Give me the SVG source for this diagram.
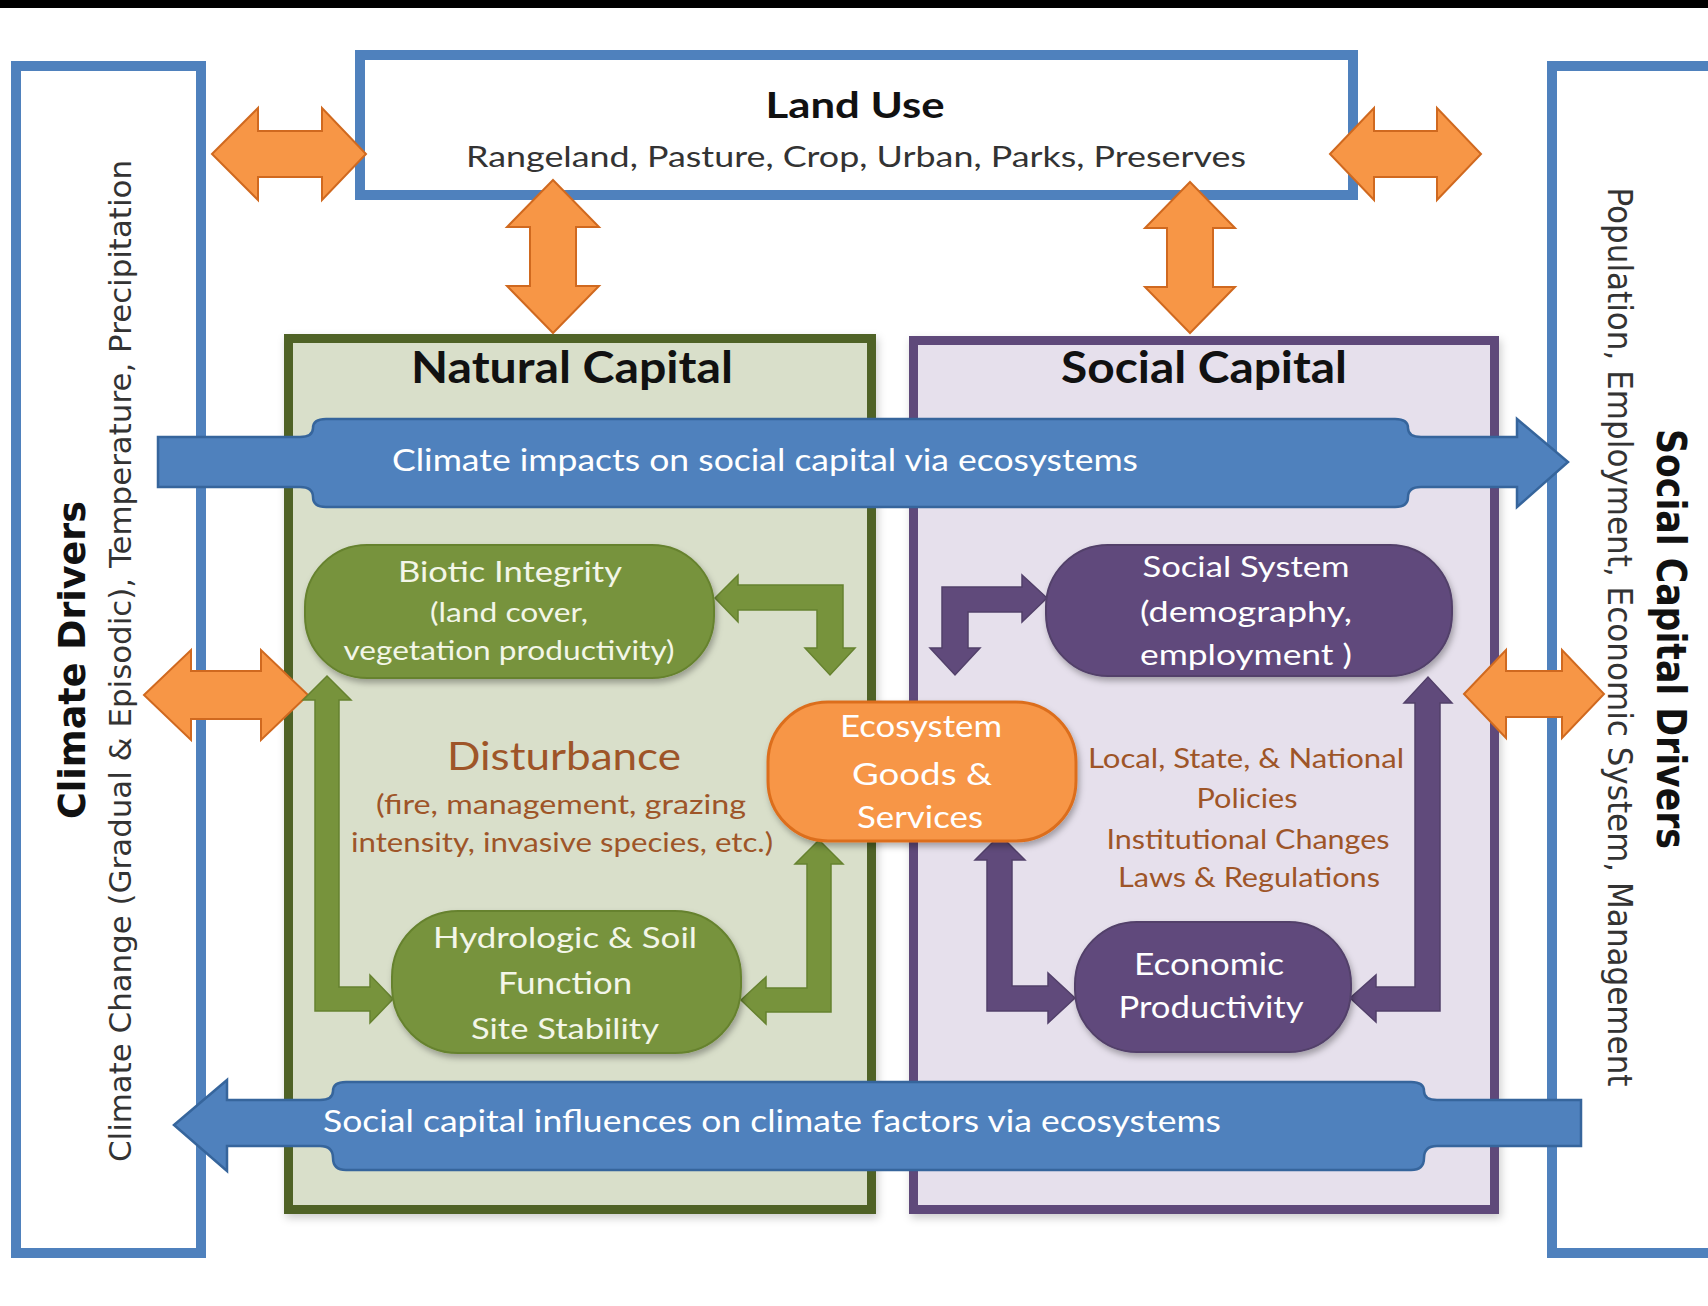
<svg xmlns="http://www.w3.org/2000/svg" width="1708" height="1306" viewBox="0 0 1708 1306">
<defs>
<filter id="sh" x="-10%" y="-10%" width="130%" height="140%"><feDropShadow dx="2" dy="4" stdDeviation="3" flood-color="#000" flood-opacity="0.3"/></filter>
<filter id="shb" x="-5%" y="-5%" width="110%" height="110%"><feDropShadow dx="2" dy="4" stdDeviation="4" flood-color="#000" flood-opacity="0.2"/></filter>
<style>
.lato{font-family:Lato,"Liberation Sans",sans-serif}
.dv{font-family:"DejaVu Sans",Verdana,sans-serif}
.bluebox{fill:#fff;stroke:#4F81BD;stroke-width:10}
.orange{fill:#F79646;stroke:#D0691F;stroke-width:2}
.blue{fill:#4F81BD;stroke:#36659C;stroke-width:2.5}
.green{fill:#77933C;stroke:#66822F;stroke-width:1.5}
.purple{fill:#604A7B;stroke:#52406A;stroke-width:1.5}
.wt{fill:#fff}
.gt{fill:#F3F6E8}
.bt{fill:#9E5528}
</style>
</defs>
<rect x="0" y="0" width="1708" height="1306" fill="#fff"/>
<rect x="0" y="0" width="1708" height="8" fill="#000"/>

<g id="climate-drivers">
<rect class="bluebox" x="16" y="66" width="185" height="1187"/>
<text class="dv" x="85" y="660" transform="rotate(-90 85 660)" text-anchor="middle" font-size="38" font-weight="bold" fill="#111" textLength="318" lengthAdjust="spacingAndGlyphs">Climate Drivers</text>
<text class="dv" x="131" y="661" transform="rotate(-90 131 661)" text-anchor="middle" font-size="31" fill="#333" textLength="1002" lengthAdjust="spacingAndGlyphs">Climate Change (Gradual &amp; Episodic), Temperature, Precipitation</text>
</g>

<g id="social-capital-drivers">
<rect class="bluebox" x="1552" y="66" width="200" height="1187"/>
<text class="dv" x="1657" y="639" transform="rotate(90 1657 639)" text-anchor="middle" font-size="40" font-weight="bold" fill="#111" textLength="420" lengthAdjust="spacingAndGlyphs">Social Capital Drivers</text>
<text class="dv" x="1608" y="637" transform="rotate(90 1608 637)" text-anchor="middle" font-size="33" fill="#333" textLength="899" lengthAdjust="spacingAndGlyphs">Population, Employment, Economic System, Management</text>
</g>

<g id="land-use">
<rect class="bluebox" x="360" y="55" width="993" height="140"/>
<text class="lato" x="855" y="118" text-anchor="middle" font-size="36" font-weight="bold" fill="#111" textLength="179" lengthAdjust="spacingAndGlyphs">Land Use</text>
<text class="lato" x="856" y="167" text-anchor="middle" font-size="28" fill="#333" textLength="780" lengthAdjust="spacingAndGlyphs">Rangeland, Pasture, Crop, Urban, Parks, Preserves</text>
</g>

<g id="natural-capital">
<rect x="288.5" y="338.5" width="583" height="871" fill="#D9DFCA" stroke="#4F6228" stroke-width="9" filter="url(#shb)"/>
<text class="lato" x="572" y="383" text-anchor="middle" font-size="43" font-weight="bold" fill="#111" textLength="322" lengthAdjust="spacingAndGlyphs">Natural Capital</text>
</g>

<g id="social-capital">
<rect x="913.5" y="340.5" width="581" height="869" fill="#E6E0EC" stroke="#5F497A" stroke-width="9" filter="url(#shb)"/>
<text class="lato" x="1204" y="383" text-anchor="middle" font-size="43" font-weight="bold" fill="#111" textLength="286" lengthAdjust="spacingAndGlyphs">Social Capital</text>
</g>

<g id="disturbance">
<text class="lato bt" x="564" y="770" text-anchor="middle" font-size="38" fill="#A65E30" textLength="234" lengthAdjust="spacingAndGlyphs">Disturbance</text>
<text class="lato bt" x="561" y="814" text-anchor="middle" font-size="27" textLength="370" lengthAdjust="spacingAndGlyphs">(fire, management, grazing</text>
<text class="lato bt" x="562" y="852" text-anchor="middle" font-size="27" textLength="422" lengthAdjust="spacingAndGlyphs">intensity, invasive species, etc.)</text>
</g>

<g id="policies">
<text class="lato bt" x="1246" y="768" text-anchor="middle" font-size="27" textLength="316" lengthAdjust="spacingAndGlyphs">Local, State, &amp; National</text>
<text class="lato bt" x="1247" y="808" text-anchor="middle" font-size="27" textLength="101" lengthAdjust="spacingAndGlyphs">Policies</text>
<text class="lato bt" x="1248" y="849" text-anchor="middle" font-size="27" textLength="283" lengthAdjust="spacingAndGlyphs">Institutional Changes</text>
<text class="lato bt" x="1249" y="887" text-anchor="middle" font-size="27" textLength="262" lengthAdjust="spacingAndGlyphs">Laws &amp; Regulations</text>
</g>

<g id="connectors">
<polygon class="orange" points="212,154 258,108 258,131 322,131 322,108 366,154 322,200 322,177 258,177 258,200"/>
<polygon class="orange" points="1330,154 1374,108 1374,131 1437,131 1437,108 1481,154 1437,200 1437,177 1374,177 1374,200"/>
<polygon class="orange" points="553,180 599,227 576,227 576,286 599,286 553,333 507,286 530,286 530,227 507,227"/>
<polygon class="orange" points="1190,182 1235,228 1213,228 1213,287 1235,287 1190,333 1145,287 1167,287 1167,228 1145,228"/>
<polygon class="orange" points="144,695 191,650 191,671 261,671 261,650 308,695 261,740 261,719 191,719 191,740"/>
<polygon class="orange" points="1464,694 1506,650 1506,671 1562,671 1562,650 1604,694 1562,738 1562,717 1506,717 1506,738"/>

<path class="blue" d="M158,437 H300 Q313,437 313,428 Q313,419 326,419 H1395 Q1408,419 1408,428 Q1408,437 1421,437 H1517 V419 L1568,462 L1517,507 V487 H1421 Q1408,487 1408,497 Q1408,507 1395,507 H326 Q313,507 313,497 Q313,487 300,487 H158 Z"/>
<text class="lato wt" x="765" y="471" text-anchor="middle" font-size="31" textLength="746" lengthAdjust="spacingAndGlyphs">Climate impacts on social capital via ecosystems</text>

<path class="blue" d="M174,1125 L227,1080 V1100 H320 Q333,1100 333,1091 Q333,1082 346,1082 H1411 Q1424,1082 1424,1091 Q1424,1100 1437,1100 H1581 V1146 H1437 Q1424,1146 1424,1158 Q1424,1170 1411,1170 H346 Q333,1170 333,1158 Q333,1146 320,1146 H227 V1171 Z"/>
<text class="lato wt" x="772" y="1132" text-anchor="middle" font-size="31" textLength="898" lengthAdjust="spacingAndGlyphs">Social capital influences on climate factors via ecosystems</text>

<polygon class="green" points="715,598 738,575 738,585 843,585 843,648 855,648 830,675 805,648 817,648 817,610 738,610 738,622"/>
<polygon class="green" points="327,676 351,700 339,700 339,987 370,987 370,975 393,999 370,1023 370,1011 315,1011 315,700 303,700"/>
<polygon class="green" points="741,1000 766,977 766,988 807,988 807,864 795,864 819,840 843,864 831,864 831,1012 766,1012 766,1024"/>

<polygon class="purple" points="1047,598 1022,575 1022,587 942,587 942,648 930,648 955,675 980,648 968,648 968,612 1022,612 1022,622"/>
<polygon class="purple" points="1000,835 1025,860 1012,860 1012,986 1048,986 1048,973 1075,998 1048,1023 1048,1011 987,1011 987,860 975,860"/>
<polygon class="purple" points="1350,998 1376,975 1376,987 1415,987 1415,703 1404,703 1428,677 1452,703 1440,703 1440,1011 1376,1011 1376,1022"/>
</g>

<g id="biotic-integrity">
<rect x="305" y="545" width="409" height="133" rx="62" fill="#77933C" stroke="#66822F" stroke-width="2" filter="url(#sh)"/>
<text class="lato gt" x="510" y="582" text-anchor="middle" font-size="28" textLength="224" lengthAdjust="spacingAndGlyphs">Biotic Integrity</text>
<text class="lato gt" x="509" y="622" text-anchor="middle" font-size="27" textLength="158" lengthAdjust="spacingAndGlyphs">(land cover,</text>
<text class="lato gt" x="509" y="660" text-anchor="middle" font-size="27" textLength="331" lengthAdjust="spacingAndGlyphs">vegetation productivity)</text>
</g>

<g id="hydrologic-soil">
<rect x="392" y="911" width="349" height="142" rx="66" fill="#77933C" stroke="#66822F" stroke-width="2" filter="url(#sh)"/>
<text class="lato gt" x="565" y="948" text-anchor="middle" font-size="29" textLength="264" lengthAdjust="spacingAndGlyphs">Hydrologic &amp; Soil</text>
<text class="lato gt" x="565" y="994" text-anchor="middle" font-size="30" textLength="134" lengthAdjust="spacingAndGlyphs">Function</text>
<text class="lato gt" x="565" y="1039" text-anchor="middle" font-size="29" textLength="188" lengthAdjust="spacingAndGlyphs">Site Stability</text>
</g>

<g id="ecosystem-goods">
<rect x="768" y="702" width="308" height="139" rx="60" fill="#F79646" stroke="#DC6E1E" stroke-width="3" filter="url(#sh)"/>
<text class="lato wt" x="921" y="737" text-anchor="middle" font-size="30" textLength="162" lengthAdjust="spacingAndGlyphs">Ecosystem</text>
<text class="lato wt" x="922" y="785" text-anchor="middle" font-size="30" textLength="140" lengthAdjust="spacingAndGlyphs">Goods  &amp;</text>
<text class="lato wt" x="920" y="828" text-anchor="middle" font-size="30" textLength="126" lengthAdjust="spacingAndGlyphs">Services</text>
</g>

<g id="social-system">
<rect x="1046" y="545" width="406" height="131" rx="62" fill="#604A7B" stroke="#52406A" stroke-width="2" filter="url(#sh)"/>
<text class="lato wt" x="1246" y="577" text-anchor="middle" font-size="29" textLength="207" lengthAdjust="spacingAndGlyphs">Social System</text>
<text class="lato wt" x="1246" y="622" text-anchor="middle" font-size="29" textLength="212" lengthAdjust="spacingAndGlyphs">(demography,</text>
<text class="lato wt" x="1246" y="665" text-anchor="middle" font-size="29" textLength="212" lengthAdjust="spacingAndGlyphs">employment )</text>
</g>

<g id="economic-productivity">
<rect x="1075" y="922" width="276" height="130" rx="62" fill="#604A7B" stroke="#52406A" stroke-width="2" filter="url(#sh)"/>
<text class="lato wt" x="1209" y="975" text-anchor="middle" font-size="30" textLength="150" lengthAdjust="spacingAndGlyphs">Economic</text>
<text class="lato wt" x="1211" y="1018" text-anchor="middle" font-size="30" textLength="185" lengthAdjust="spacingAndGlyphs">Productivity</text>
</g>
</svg>
